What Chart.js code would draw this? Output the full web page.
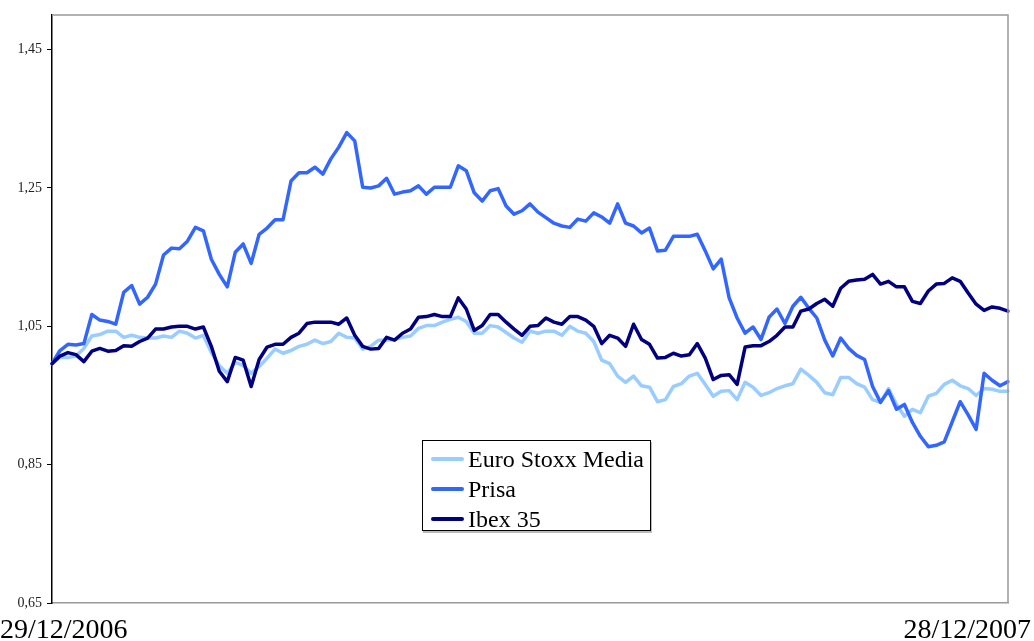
<!DOCTYPE html>
<html>
<head>
<meta charset="utf-8">
<script src="https://cdn.jsdelivr.net/npm/chart.js@4.4.0/dist/chart.umd.min.js"></script>
<style>
  html, body { margin: 0; padding: 0; background: #fff; }
  #wrap { position: relative; width: 1034px; height: 641px; }
  #legend {
    position: absolute; left: 422px; top: 440px; width: 229px; height: 91px;
    border: 1px solid #000; box-shadow: 1px 2px 0 #bbb; background: #fff;
    box-sizing: border-box; padding: 3px 0 0 8px;
    font-family: 'Liberation Serif', serif; font-size: 24px; color: #000;
  }
  .item { display: flex; align-items: center; height: 30px; }
  .swatch { width: 33px; height: 4px; margin-right: 4px; border-radius: 2px; }
</style>
</head>
<body>
<div id="wrap">
  <canvas id="myChart" width="1034" height="641"></canvas>
  <div id="legend"></div>
</div>
<script>
const xTickLabels = ['29/12/2006', '28/12/2007']
const yTicks = [0.65, 0.85, 1.05, 1.25, 1.45]

const euroStoxx = [
  0.996, 1.005, 1.005, 1.007, 1.018, 1.036, 1.038, 1.043, 1.043, 1.034,
  1.037, 1.034, 1.033, 1.033, 1.036, 1.034, 1.043, 1.040, 1.033, 1.037,
  1.012, 0.993, 0.982, 0.998, 0.993, 0.982, 0.992, 1.004, 1.017, 1.011,
  1.015, 1.021, 1.024, 1.030, 1.025, 1.028, 1.040, 1.034, 1.033, 1.017,
  1.021, 1.030, 1.030, 1.031, 1.034, 1.036, 1.047, 1.051, 1.051, 1.056,
  1.060, 1.063, 1.057, 1.040, 1.040, 1.051, 1.049, 1.041, 1.033, 1.027,
  1.043, 1.040, 1.043, 1.043, 1.037, 1.050, 1.043, 1.040, 1.028, 1.001,
  0.996, 0.978, 0.969, 0.978, 0.964, 0.962, 0.941, 0.944, 0.963, 0.967,
  0.978, 0.982, 0.966, 0.949, 0.956, 0.957, 0.944, 0.969, 0.962, 0.950,
  0.954, 0.960, 0.964, 0.967, 0.988, 0.979, 0.969, 0.954, 0.951, 0.976,
  0.976, 0.967, 0.962, 0.944, 0.940, 0.960, 0.937, 0.920, 0.930, 0.925,
  0.949, 0.953, 0.966, 0.972, 0.964, 0.960, 0.950, 0.960, 0.959, 0.956,
  0.956
]

const prisa = [
  0.996, 1.015, 1.024, 1.023, 1.025, 1.067, 1.059, 1.057, 1.053, 1.099,
  1.109, 1.082, 1.092, 1.111, 1.153, 1.163, 1.162, 1.173, 1.193, 1.188,
  1.147, 1.125, 1.107, 1.157, 1.169, 1.141, 1.183, 1.192, 1.204, 1.204,
  1.260, 1.272, 1.272, 1.280, 1.270, 1.292, 1.309, 1.330, 1.318, 1.251,
  1.250, 1.253, 1.264, 1.241, 1.244, 1.246, 1.253, 1.241, 1.251, 1.251,
  1.251, 1.282, 1.275, 1.243, 1.231, 1.246, 1.249, 1.224, 1.212, 1.217,
  1.227, 1.215, 1.207, 1.199, 1.195, 1.193, 1.205, 1.202, 1.214, 1.208,
  1.199, 1.227, 1.199, 1.195, 1.185, 1.192, 1.159, 1.160, 1.180, 1.180,
  1.180, 1.183, 1.159, 1.133, 1.147, 1.091, 1.062, 1.040, 1.049, 1.031,
  1.063, 1.075, 1.054, 1.079, 1.092, 1.076, 1.062, 1.030, 1.007, 1.033,
  1.018, 1.008, 1.002, 0.963, 0.940, 0.957, 0.930, 0.937, 0.911, 0.891,
  0.876, 0.878, 0.883, 0.912, 0.941, 0.922, 0.901, 0.982, 0.972, 0.964,
  0.970
]

const ibex = [
  0.996, 1.007, 1.012, 1.009, 0.999, 1.014, 1.018, 1.014, 1.015, 1.022,
  1.021, 1.028, 1.033, 1.046, 1.046, 1.049, 1.050, 1.050, 1.046, 1.049,
  1.021, 0.985, 0.970, 1.005, 1.001, 0.963, 1.002, 1.020, 1.024, 1.024,
  1.034, 1.040, 1.054, 1.056, 1.056, 1.056, 1.053, 1.062, 1.037, 1.021,
  1.017, 1.018, 1.034, 1.030, 1.040, 1.046, 1.063, 1.064, 1.067, 1.064,
  1.064, 1.091, 1.075, 1.044, 1.051, 1.067, 1.067, 1.056, 1.046, 1.037,
  1.050, 1.051, 1.062, 1.056, 1.053, 1.064, 1.064, 1.059, 1.050, 1.025,
  1.037, 1.033, 1.021, 1.053, 1.031, 1.024, 1.004, 1.005, 1.011, 1.007,
  1.009, 1.025, 1.004, 0.973, 0.979, 0.980, 0.966, 1.020, 1.022, 1.022,
  1.028, 1.037, 1.049, 1.049, 1.072, 1.075, 1.083, 1.089, 1.079, 1.105,
  1.115, 1.117, 1.118, 1.125, 1.111, 1.115, 1.107, 1.107, 1.086, 1.083,
  1.101, 1.111, 1.112, 1.120, 1.115, 1.098, 1.082, 1.073, 1.078, 1.076,
  1.072
]

const seriesNames = ['Euro Stoxx Media', 'Prisa', 'Ibex 35']
const seriesColors = ['#99ccff', '#3366ff', '#000080']

const ctx = document.getElementById('myChart').getContext('2d')

// gray frame on top and right, dates under the plot
const framePlugin = {
    id: 'frame',
    afterDraw(chart) {
        const c = chart.ctx
        const a = chart.chartArea
        c.save()
        c.strokeStyle = '#999999'
        c.lineWidth = 1.5
        c.beginPath()
        c.moveTo(a.left, a.top)
        c.lineTo(a.right, a.top)
        c.lineTo(a.right, a.bottom)
        c.stroke()

        c.fillStyle = '#000'
        c.font = '28px "Liberation Serif", serif'
        c.textBaseline = 'alphabetic'
        c.textAlign = 'left'
        c.fillText(xTickLabels[0], 0, 638)
        c.textAlign = 'right'
        c.fillText(xTickLabels[1], chart.width - 3, 638)
        c.restore()
    }
}

const myChart = new Chart(ctx, {
    type: 'line',
    data: {
        labels: prisa.map((v, i) => i),
        datasets: [
            { label: seriesNames[0], data: euroStoxx, borderColor: seriesColors[0], order: 2 },
            { label: seriesNames[1], data: prisa, borderColor: seriesColors[1], order: 1 },
            { label: seriesNames[2], data: ibex, borderColor: seriesColors[2], order: 0 }
        ]
    },
    options: {
        responsive: false,
        animation: false,
        layout: { padding: { top: 15, right: 26, left: 0, bottom: 0 } },
        elements: {
            point: { radius: 0 },
            line: { borderWidth: 3.5, tension: 0, borderJoinStyle: 'round', borderCapStyle: 'round' }
        },
        plugins: {
            legend: { display: false },
            tooltip: { enabled: false }
        },
        scales: {
            x: {
                type: 'category',
                grid: { display: false },
                ticks: { display: false },
                border: { color: '#999999', width: 1.5 },
                afterFit(scale) { scale.height = 38 }
            },
            y: {
                min: 0.65,
                max: 1.5,
                afterBuildTicks(scale) { scale.ticks = yTicks.map(v => ({ value: v })) },
                afterFit(scale) { scale.width = 52 },
                grid: { drawOnChartArea: false, drawTicks: true, tickLength: 5, color: '#000' },
                border: { color: '#000', width: 1.5 },
                ticks: {
                    padding: 5,
                    color: '#222',
                    font: { family: '"Liberation Serif", serif', size: 14 },
                    callback: v => v.toFixed(2).replace('.', ',')
                }
            }
        }
    },
    plugins: [framePlugin]
})

// HTML legend
const legendEl = document.getElementById('legend')
myChart.data.datasets.forEach(ds => {
    const item = document.createElement('div')
    item.className = 'item'
    item.innerHTML = `<span class="swatch" style="background:${ds.borderColor}"></span><span>${ds.label}</span>`
    legendEl.appendChild(item)
})
</script>
</body>
</html>
